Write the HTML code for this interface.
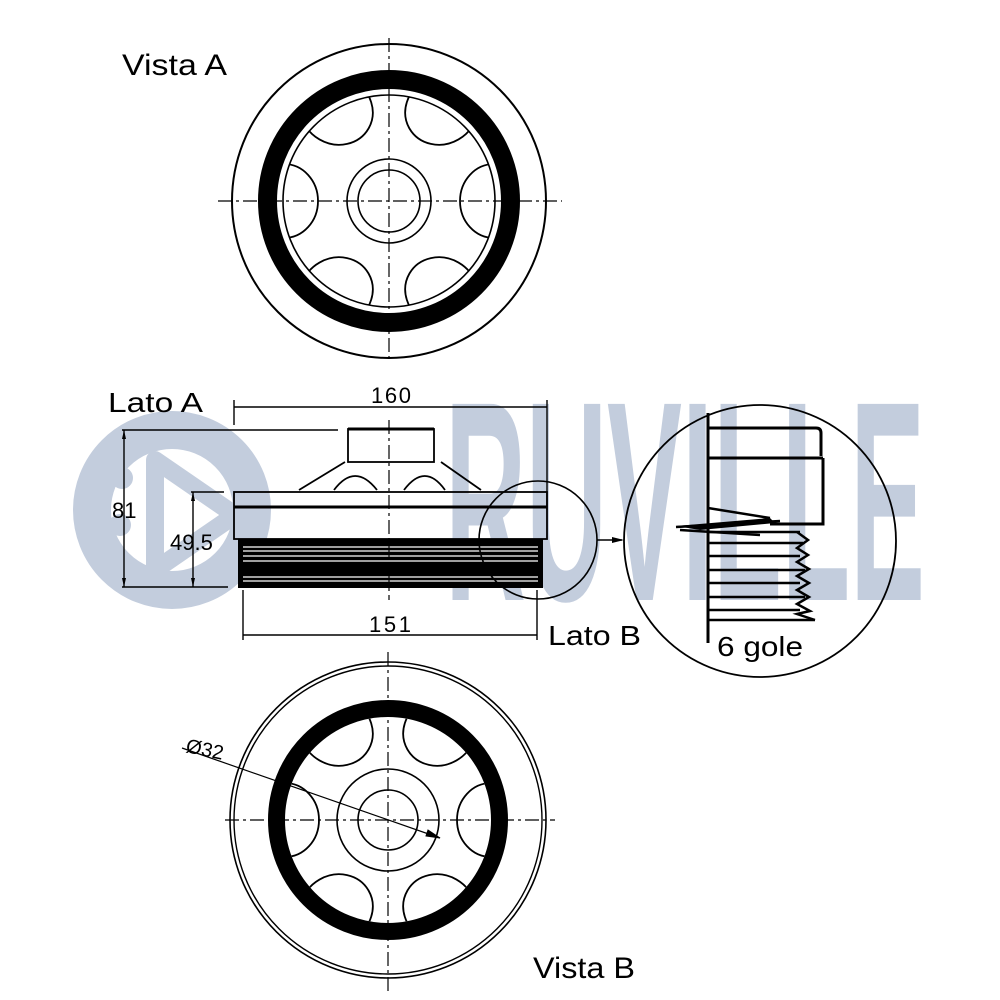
<!DOCTYPE html>
<html><head><meta charset="utf-8"><style>
html,body{margin:0;padding:0;background:#fff;}
svg{display:block;}
text{font-family:"Liberation Sans",sans-serif;}
</style></head><body>
<svg width="1000" height="1000" viewBox="0 0 1000 1000" xmlns="http://www.w3.org/2000/svg">
<defs>
<clipPath id="ct"><circle cx="389" cy="201" r="106"/></clipPath>
<clipPath id="cb"><circle cx="388" cy="820" r="103"/></clipPath>
</defs>
<!-- watermark -->
<g fill="#c3cddd">
<text x="445" y="600" font-size="285" font-weight="bold" textLength="480" lengthAdjust="spacingAndGlyphs" fill="#c3cddd">RUVILLE</text>
<circle cx="172" cy="510" r="80" fill="none" stroke="#c3cddd" stroke-width="38"/>
<path d="M155 460 L235 515 L155 570 Z" fill="none" stroke="#c3cddd" stroke-width="18" stroke-linejoin="round"/>
<circle cx="122" cy="478" r="11"/>
<circle cx="120" cy="525" r="11"/>
</g>

<!-- Labels -->
<g fill="#000">
<text x="122" y="75" font-size="30" textLength="105" lengthAdjust="spacingAndGlyphs">Vista A</text>
<text x="533" y="978" font-size="30" textLength="102" lengthAdjust="spacingAndGlyphs">Vista B</text>
<text x="108" y="412" font-size="28" textLength="95" lengthAdjust="spacingAndGlyphs">Lato A</text>
<text x="548" y="645" font-size="28" textLength="93" lengthAdjust="spacingAndGlyphs">Lato B</text>
<text x="717" y="656" font-size="28" textLength="86" lengthAdjust="spacingAndGlyphs">6 gole</text>
</g>

<!-- Top view -->
<g fill="none" stroke="#000">
<circle cx="389" cy="201" r="157" stroke-width="2"/>
<circle cx="389" cy="201" r="121.5" stroke-width="19"/>
<circle cx="389" cy="201" r="106" stroke-width="1.6"/>
<circle cx="389" cy="201" r="42" stroke-width="1.6"/>
<circle cx="389" cy="201" r="31" stroke-width="1.6"/>
<g clip-path="url(#ct)" stroke-width="1.8">
<ellipse cx="284" cy="201" rx="34" ry="37"/>
<ellipse cx="494" cy="201" rx="34" ry="37"/>
<ellipse cx="336.5" cy="110" rx="34" ry="37" transform="rotate(-60 336.5 110)"/>
<ellipse cx="441.5" cy="110" rx="34" ry="37" transform="rotate(60 441.5 110)"/>
<ellipse cx="336.5" cy="292" rx="34" ry="37" transform="rotate(60 336.5 292)"/>
<ellipse cx="441.5" cy="292" rx="34" ry="37" transform="rotate(-60 441.5 292)"/>
</g>
<line x1="218" y1="201" x2="562" y2="201" stroke-width="1.2" stroke-dasharray="14 4 3 4"/>
<line x1="389" y1="38" x2="389" y2="362" stroke-width="1.2" stroke-dasharray="14 4 3 4"/>
</g>

<!-- Bottom view -->
<g fill="none" stroke="#000">
<circle cx="388" cy="820" r="158" stroke-width="1.6"/>
<circle cx="388" cy="820" r="154" stroke-width="1.4"/>
<circle cx="388" cy="820" r="111.5" stroke-width="17"/>
<circle cx="388" cy="820" r="51" stroke-width="1.6"/>
<circle cx="388" cy="820" r="30" stroke-width="1.6"/>
<g clip-path="url(#cb)" stroke-width="1.8">
<ellipse cx="285" cy="820" rx="34" ry="37"/>
<ellipse cx="491" cy="820" rx="34" ry="37"/>
<ellipse cx="336.5" cy="731" rx="34" ry="37" transform="rotate(-60 336.5 731)"/>
<ellipse cx="439.5" cy="731" rx="34" ry="37" transform="rotate(60 439.5 731)"/>
<ellipse cx="336.5" cy="909" rx="34" ry="37" transform="rotate(60 336.5 909)"/>
<ellipse cx="439.5" cy="909" rx="34" ry="37" transform="rotate(-60 439.5 909)"/>
</g>
<line x1="225" y1="820" x2="555" y2="820" stroke-width="1.2" stroke-dasharray="14 4 3 4"/>
<line x1="388" y1="652" x2="388" y2="992" stroke-width="1.2" stroke-dasharray="14 4 3 4"/>
<line x1="182" y1="748" x2="440" y2="838" stroke-width="1.2"/>
<path d="M440 838 L428 830 L426 836 Z" fill="#000"/>
</g>
<text x="185" y="752" font-size="20" transform="rotate(12 185 752)" fill="#000">Ø32</text>

<!-- Side view -->
<g fill="none" stroke="#000">
<line x1="234" y1="407" x2="547" y2="407" stroke-width="1.4"/>
<line x1="234" y1="400" x2="234" y2="425" stroke-width="1.4"/>
<line x1="547" y1="400" x2="547" y2="510" stroke-width="1.4"/>
<rect x="348" y="429" width="86" height="33" stroke-width="1.8"/>
<line x1="348" y1="429" x2="434" y2="429" stroke-width="3"/>
<path d="M299 490 L345 462 M441 462 L481 490" stroke-width="1.8"/>
<path d="M334 490 Q355 462 377 490 M404 490 Q425 462 445 490" stroke-width="1.8"/>
<rect x="234" y="492" width="313" height="47" stroke-width="1.8"/>
<line x1="234" y1="507" x2="547" y2="507" stroke-width="3"/>
<line x1="124" y1="430" x2="124" y2="587" stroke-width="1.4"/>
<line x1="122" y1="430" x2="338" y2="430" stroke-width="1.4"/>
<line x1="122" y1="587" x2="228" y2="587" stroke-width="1.4"/>
<line x1="193" y1="492" x2="193" y2="587" stroke-width="1.4"/>
<line x1="191" y1="492" x2="224" y2="492" stroke-width="1.4"/>
<line x1="243" y1="635" x2="537" y2="635" stroke-width="1.4"/>
<line x1="243" y1="590" x2="243" y2="640" stroke-width="1.4"/>
<line x1="537" y1="590" x2="537" y2="640" stroke-width="1.4"/>
</g>
<g fill="#000">
<path d="M124 430 l-2 9 h4 Z M124 587 l-2 -9 h4 Z M193 492 l-2 9 h4 Z M193 587 l-2 -9 h4 Z"/>
<rect x="238" y="539" width="305" height="49"/>
</g>
<g stroke="#fff" stroke-width="1.3">
<line x1="243" y1="547" x2="538" y2="547"/>
<line x1="243" y1="551" x2="538" y2="551"/>
<line x1="243" y1="556" x2="538" y2="556"/>
<line x1="243" y1="561" x2="538" y2="561"/>
<line x1="243" y1="577" x2="538" y2="577"/>
<line x1="243" y1="581" x2="538" y2="581"/>
</g>
<line x1="389" y1="420" x2="389" y2="600" stroke="#000" stroke-width="1.2" stroke-dasharray="14 4 3 4"/>
<g fill="#000" font-size="22">
<text x="391" y="403" text-anchor="middle" textLength="40" lengthAdjust="spacing">160</text>
<text x="390" y="632" text-anchor="middle" textLength="42" lengthAdjust="spacing">151</text>
<text x="112" y="518">81</text>
<text x="170" y="550">49.5</text>
</g>
<g fill="none" stroke="#000" stroke-width="1.6">
<circle cx="538" cy="540" r="59"/>
<line x1="597" y1="540" x2="622" y2="540"/>
</g>
<path d="M624 540 L612 537 L612 543 Z" fill="#000"/>

<!-- Big detail circle -->
<g fill="none" stroke="#000">
<circle cx="760" cy="541" r="136" stroke-width="1.8"/>
<line x1="708" y1="413" x2="708" y2="643" stroke-width="3"/>
<path d="M708 428 H816 Q821 428 821 433 V456" stroke-width="3"/>
<line x1="708" y1="458" x2="823" y2="458" stroke-width="3"/>
<path d="M823 458 V524 H770" stroke-width="3"/>
<path d="M708 508 L770 518" stroke-width="2.5"/>
<path d="M676 527 L780 521 M680 530 L760 535" stroke-width="2.5"/>
</g>
<g fill="#000">
<path d="M676 526 L770 518 L775 523 L700 530 Z"/>
</g>
<g stroke="#000" stroke-width="2.5">
<line x1="708" y1="532" x2="800" y2="532"/>
<line x1="708" y1="543" x2="803" y2="543"/>
<line x1="708" y1="556" x2="800" y2="556"/>
<line x1="708" y1="570" x2="805" y2="570"/>
<line x1="708" y1="583" x2="800" y2="583"/>
<line x1="708" y1="597" x2="805" y2="597"/>
<line x1="708" y1="610" x2="800" y2="610"/>
<line x1="708" y1="620" x2="815" y2="620"/>
</g>
<path d="M797 532 L808 540 L797 548 L808 555 L797 562 L809 569 L797 576 L809 583 L797 590 L809 597 L797 604 L810 611 L797 614 L815 620" fill="none" stroke="#000" stroke-width="2.5"/>
</svg>
</body></html>
